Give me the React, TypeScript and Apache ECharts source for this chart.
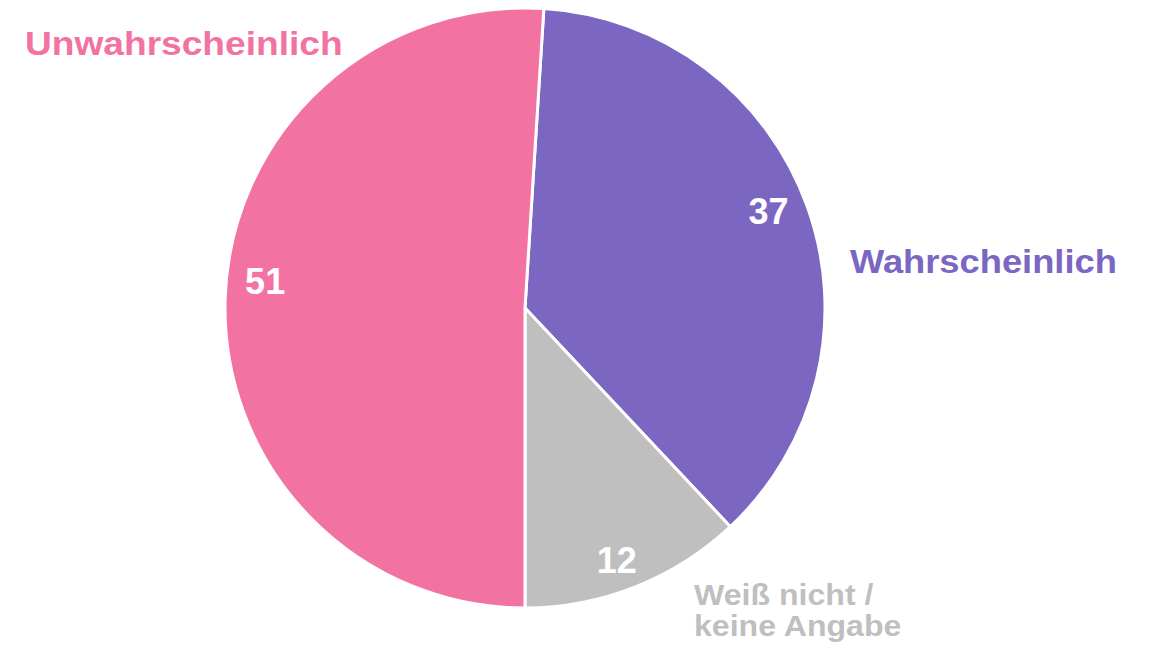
import React, { useEffect, useRef } from "react";
import * as echarts from "echarts";

const categories = ["Wahrscheinlich", "Weiß nicht /\nkeine Angabe", "Unwahrscheinlich"];
const values = [37, 12, 51];
const colors = ["#7B66C2", "#BFBFBF", "#F273A2"];

export default function App() {
  const ref = useRef<HTMLDivElement>(null);
  useEffect(() => {
    document.body.style.margin = "0";
    const chart = echarts.init(ref.current!, null, { renderer: "svg" });
    const data = categories.map((name, i) => ({ name, value: values[i], itemStyle: { color: colors[i] } }));
    const font = "'Liberation Sans', Arial, sans-serif";
    const shifts = [
      [-4, -7],
      [-5, 8],
      [3, -18],
    ];
    chart.setOption({
      animation: false,
      series: [
        {
          type: "pie",
          center: [525, 308],
          radius: [0, 300],
          startAngle: 86.4,
          clockwise: true,
          silent: true,
          label: { show: false },
          labelLine: { show: false },
          itemStyle: { borderColor: "#fff", borderWidth: 3 },
          data,
        },
        {
          type: "pie",
          center: [525, 308],
          radius: [220, 300],
          startAngle: 86.4,
          clockwise: true,
          silent: true,
          itemStyle: { color: "rgba(0,0,0,0)", borderWidth: 0 },
          label: {
            show: true,
            position: "inside",
            formatter: "{c}",
            color: "#fff",
            fontFamily: font,
            fontWeight: "bold",
            fontSize: 36,
          },
          labelLayout: (p: any) => ({ dx: shifts[p.dataIndex][0], dy: shifts[p.dataIndex][1] }),
          labelLine: { show: false },
          data: categories.map((name, i) => ({ name, value: values[i] })),
        },
      ],
      graphic: [
        {
          type: "text",
          left: 850,
          top: 245,
          scaleX: 1.1,
          style: { text: categories[0], fill: colors[0], font: `bold 33px ${font}` },
        },
        {
          type: "text",
          left: 694,
          top: 579,
          scaleX: 1.07,
          style: { text: categories[1], fill: colors[1], font: `bold 30px ${font}`, lineHeight: 31 },
        },
        {
          type: "text",
          left: 25,
          top: 27,
          scaleX: 1.125,
          style: { text: categories[2], fill: colors[2], font: `bold 33px ${font}` },
        },
      ],
    });
    return () => chart.dispose();
  }, []);
  return <div ref={ref} style={{ width: 1150, height: 651 }} />;
}
